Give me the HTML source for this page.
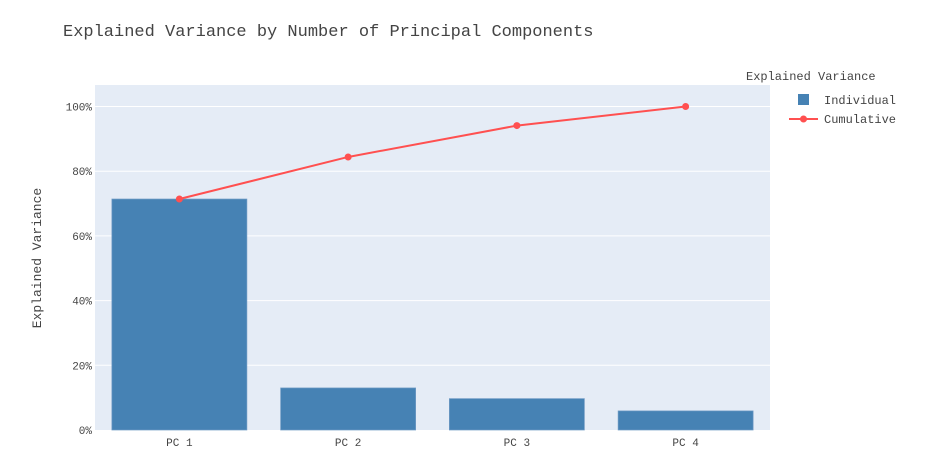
<!DOCTYPE html>
<html><head><meta charset="utf-8"><style>
body{margin:0;background:#fff}
svg{font-family:"Liberation Mono","Courier New",monospace}
</style></head><body>
<svg id="chart" width="947" height="466" xmlns="http://www.w3.org/2000/svg">
<text x="63" y="36" font-size="17" fill="#444">Explained Variance by Number of Principal Components</text>
<rect x="95" y="85" width="675" height="345" fill="#e5ecf6"/>
<g id="grid"></g><g id="bars"></g><g id="line"></g><g id="xt"></g>
<text transform="translate(41,258) rotate(-90)" text-anchor="middle" font-size="13" fill="#444">Explained Variance</text>
<text x="746" y="80" font-size="12" fill="#444">Explained Variance</text>
<g><rect x="798" y="94" width="11" height="11" fill="#4682b4"/><text x="824" y="104" font-size="12" fill="#444">Individual</text></g>
<g><line x1="789" y1="119" x2="818" y2="119" stroke="#ff5050" stroke-width="2"/><circle cx="803.5" cy="119" r="3.5" fill="#ff5050"/><text x="824" y="123" font-size="12" fill="#444">Cumulative</text></g>
</svg>
<script>
const categories=["PC 1","PC 2","PC 3","PC 4"];
const individual=[71.4,13.0,9.7,5.9];
const cumulative=[71.4,84.4,94.1,100];
const yTicks=[0,20,40,60,80,100];
const NS="http://www.w3.org/2000/svg";
const L=95,R=770,B=430,PX=3.235;
const band=(R-L)/categories.length;
const xC=i=>L+band*(i+0.5);
const y=v=>B-v*PX;
function mk(t,a,p){const e=document.createElementNS(NS,t);for(const k in a)e.setAttribute(k,a[k]);document.getElementById(p).appendChild(e);return e;}
yTicks.forEach(v=>{
 if(v>0){const g=mk('line',{x1:L,x2:R,y1:y(v),y2:y(v),stroke:'#fff','stroke-width':1},'grid');
 
 }
 const t=mk('text',{x:L-3,y:y(v)+4,'text-anchor':'end','font-size':11,fill:'#444'},'grid');t.textContent=v+'%';
 
 
});
categories.forEach((c,i)=>{
 const w=band*0.8;
 const b=mk('rect',{x:xC(i)-w/2,y:y(individual[i]),width:w,height:B-y(individual[i]),fill:'#4682b4',stroke:'#6f9ac4','stroke-width':0.7},'bars');
 
 
 const t=mk('text',{x:xC(i),y:446,'text-anchor':'middle','font-size':11,fill:'#444'},'xt');t.textContent=c;
 
 
});
const pl=mk('polyline',{points:cumulative.map((v,i)=>xC(i)+','+y(v)).join(' '),fill:'none',stroke:'#ff5050','stroke-width':2},'line');


cumulative.forEach((v,i)=>{const c=mk('circle',{cx:xC(i),cy:y(v),r:3.5,fill:'#ff5050'},'line');
 
 });
</script>
</body></html>
